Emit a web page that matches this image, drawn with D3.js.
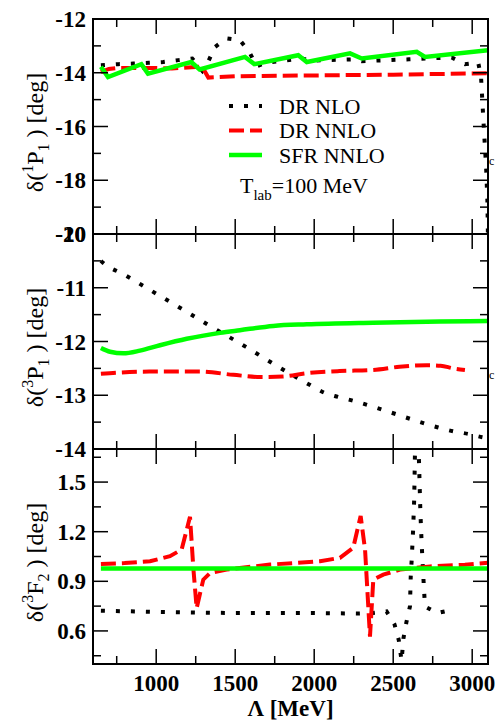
<!DOCTYPE html>
<html>
<head>
<meta charset="utf-8">
<script src="https://cdn.jsdelivr.net/npm/d3@7"></script>
<style>
  body { margin: 0; background: #fff; }
</style>
</head>
<body>
<svg id="chart" width="495" height="720" font-family="'Liberation Serif', serif"></svg>
<script>
// x axis
const xTicks = [1000, 1500, 2000, 2500, 3000];
const xMinorTicks = [750, 1250, 1750, 2250, 2750];

// series names
const seriesNames = ['DR NLO', 'DR NNLO', 'SFR NNLO'];

// 1P1 panel [Lambda, delta]
const p1DrNlo = [[650, -13.72], [760, -13.68], [855, -13.66], [954, -13.63], [1045, -13.6], [1140, -13.53], [1228, -13.47], [1292, -13.93], [1328, -13.6], [1372, -13.04], [1446, -12.72], [1530, -12.79], [1589, -13.22], [1636, -13.76], [1700, -13.62], [1925, -13.47], [1975, -13.55], [2250, -13.5], [2300, -13.57], [2600, -13.5], [2870, -13.43], [2954, -13.68], [3038, -13.62], [3056, -14.16], [3066, -15.25], [3077, -16.4], [3088, -17.5], [3096, -18.74], [3100, -20.2]];
const p1DrNnlo = [[650, -13.98], [700, -13.86], [760, -13.82], [1000, -13.82], [1100, -13.84], [1290, -13.77], [1330, -14.18], [1500, -14.13], [2000, -14.1], [2500, -14.07], [3100, -14.02]];
const p1SfrNnlo = [[650, -13.78], [695, -14.16], [906, -13.68], [948, -14.03], [1222, -13.6], [1275, -13.88], [1562, -13.41], [1621, -13.68], [1899, -13.35], [1953, -13.6], [2227, -13.28], [2301, -13.47], [2649, -13.22], [2701, -13.41], [3100, -13.16]];
const p1Ticks = [-20, -18, -16, -14, -12];
const p1MinorTicks = [-19, -17, -15, -13];

// 3P1 panel
const p3DrNlo = [[650, -10.5], [665, -10.54], [800, -10.76], [1000, -11.11], [1200, -11.46], [1323, -11.68], [1568, -12.1], [1750, -12.43], [1896, -12.68], [1980, -12.82], [2062, -12.95], [2150, -13.03], [2244, -13.1], [2380, -13.22], [2516, -13.35], [2650, -13.48], [2785, -13.6], [2880, -13.67], [2975, -13.72], [3064, -13.78], [3100, -13.8]];
const p3DrNnlo = [[650, -12.6], [750, -12.58], [961, -12.56], [1277, -12.56], [1488, -12.62], [1657, -12.66], [1800, -12.65], [1953, -12.59], [2160, -12.55], [2374, -12.53], [2540, -12.47], [2712, -12.44], [2800, -12.45], [2880, -12.5], [2954, -12.53]];
const p3SfrNnlo = [[650, -12.12], [708, -12.19], [792, -12.22], [897, -12.17], [1024, -12.07], [1193, -11.95], [1404, -11.84], [1530, -11.79], [1741, -11.71], [1953, -11.68], [2374, -11.65], [2796, -11.63], [3100, -11.62]];
const p3Ticks = [-14, -13, -12, -11, -10];
const p3MinorTicks = [-13.5, -12.5, -11.5, -10.5];

// 3F2 panel
const f2DrNlo = [[650, 0.722], [1000, 0.715], [1500, 0.708], [2000, 0.708], [2270, 0.705], [2370, 0.708], [2458, 0.718], [2508, 0.64], [2535, 0.546], [2553, 0.42], [2565, 0.556], [2583, 0.65], [2606, 0.748], [2611, 0.93], [2617, 1.03], [2626, 1.21], [2633, 1.4], [2638, 1.69], [2651, 2.0], [2664, 1.6], [2672, 1.32], [2680, 1.13], [2690, 0.94], [2701, 0.748], [2779, 0.708], [2855, 0.724]];
const f2DrNnlo = [[650, 1.005], [800, 1.01], [961, 1.021], [1087, 1.052], [1161, 1.092], [1214, 1.29], [1235, 0.98], [1256, 0.738], [1298, 0.91], [1341, 0.95], [1446, 0.971], [1720, 1.001], [2037, 1.021], [2163, 1.042], [2247, 1.103], [2294, 1.295], [2322, 1.09], [2353, 0.566], [2374, 0.91], [2437, 0.94], [2543, 0.971], [2733, 0.99], [2954, 1.0], [3100, 1.012]];
const f2SfrNnlo = [[650, 0.978], [1500, 0.977], [2500, 0.977], [3100, 0.977]];
const f2Ticks = [0.6, 0.9, 1.2, 1.5];
const f2MinorTicks = [0.45, 0.75, 1.05, 1.35, 1.65];

const panels = [
  { label: ['1', '1'], domain: [-20, -12], ticks: p1Ticks, minor: p1MinorTicks, fmt: d3.format('d'), series: [p1DrNlo, p1DrNnlo, p1SfrNnlo], curve: d3.curveLinear },
  { label: ['3', '1'], domain: [-14, -10], ticks: p3Ticks, minor: p3MinorTicks, fmt: d3.format('d'), series: [p3DrNlo, p3DrNnlo, p3SfrNnlo], curve: d3.curveMonotoneX },
  { label: ['3', '2'], domain: [0.4, 1.7], ticks: f2Ticks, minor: f2MinorTicks, fmt: d3.format('.1f'), series: [f2DrNlo, f2DrNnlo, f2SfrNnlo], curve: d3.curveLinear, letter: 'F' }
];

// line styles for DR NLO, DR NNLO, SFR NNLO
const styles = [
  { color: '#000', width: 4, dash: '4,11' },
  { color: '#ff0000', width: 4, dash: '15,6' },
  { color: '#00ff00', width: 4.5, dash: null }
];

const svg = d3.select('#chart');
const plotLeft = 93, plotRight = 488, plotTop = 19, panelH = 215;
const majorLen = 15, minorLen = 8;

const x = d3.scaleLinear().domain([600, 3100]).range([plotLeft, plotRight]);

panels.forEach((p, i) => {
  const y0 = plotTop + i * panelH;
  const y = d3.scaleLinear().domain(p.domain).range([y0 + panelH, y0]);
  const g = svg.append('g');

  g.append('clipPath').attr('id', 'clip' + i)
    .append('rect').attr('x', plotLeft).attr('y', y0).attr('width', plotRight - plotLeft).attr('height', panelH);

  // curves
  const line = d3.line().x(d => x(d[0])).y(d => y(d[1])).curve(p.curve);
  p.series.forEach((s, k) => {
    g.append('path')
      .attr('clip-path', `url(#clip${i})`)
      .attr('d', line(s))
      .attr('fill', 'none')
      .attr('stroke', styles[k].color)
      .attr('stroke-width', styles[k].width)
      .attr('stroke-dasharray', styles[k].dash);
  });

  // ticks, inward on all four sides
  const ticks = g.append('g').attr('stroke', '#000').attr('stroke-width', 1.5);
  const xt = xTicks.map(v => [v, majorLen]).concat(xMinorTicks.map(v => [v, minorLen]));
  xt.forEach(([v, len]) => {
    ticks.append('line').attr('x1', x(v)).attr('x2', x(v)).attr('y1', y0 + panelH).attr('y2', y0 + panelH - len);
    ticks.append('line').attr('x1', x(v)).attr('x2', x(v)).attr('y1', y0).attr('y2', y0 + len);
  });
  const yt = p.ticks.map(v => [v, majorLen]).concat(p.minor.map(v => [v, minorLen]));
  yt.forEach(([v, len]) => {
    ticks.append('line').attr('x1', plotLeft).attr('x2', plotLeft + len).attr('y1', y(v)).attr('y2', y(v));
    ticks.append('line').attr('x1', plotRight).attr('x2', plotRight - len).attr('y1', y(v)).attr('y2', y(v));
  });

  // frame
  g.append('rect').attr('x', plotLeft).attr('y', y0).attr('width', plotRight - plotLeft).attr('height', panelH)
    .attr('fill', 'none').attr('stroke', '#000').attr('stroke-width', 2);

  // y tick labels
  g.selectAll('.ylab').data(p.ticks).enter().append('text')
    .attr('x', plotLeft - 7).attr('y', d => y(d)).attr('dy', '0.35em')
    .attr('text-anchor', 'end').attr('font-size', 23).attr('font-weight', 'bold')
    .text(d => p.fmt(d).replace('−', '-'));

  // y axis title
  const t = g.append('text')
    .attr('transform', `translate(43, ${y0 + panelH / 2 + 6}) rotate(-90)`)
    .attr('text-anchor', 'middle').attr('font-size', 24);
  t.append('tspan').text('δ(');
  t.append('tspan').attr('dy', -10).attr('font-size', 16).text(p.label[0]);
  t.append('tspan').attr('dy', 10).text(p.letter || 'P');
  t.append('tspan').attr('dy', 6).attr('font-size', 16).text(p.label[1]);
  t.append('tspan').attr('dy', -6).text(' ) [deg]');
});

// x tick labels and title
const plotBottom = plotTop + 3 * panelH;
svg.selectAll('.xlab').data(xTicks).enter().append('text')
  .attr('x', d => x(d)).attr('y', plotBottom + 27)
  .attr('text-anchor', 'middle').attr('font-size', 23).attr('font-weight', 'bold')
  .text(d => d);
svg.append('text').attr('x', (plotLeft + plotRight) / 2).attr('y', 716)
  .attr('text-anchor', 'middle').attr('font-size', 23).attr('font-weight', 'bold')
  .text('Λ [MeV]');

// legend
const legend = svg.append('g');
seriesNames.forEach((name, k) => {
  const ly = 106 + k * 24.5;
  legend.append('line').attr('x1', 229).attr('x2', 262).attr('y1', ly).attr('y2', ly)
    .attr('stroke', styles[k].color).attr('stroke-width', styles[k].width)
    .attr('stroke-dasharray', styles[k].dash);
  legend.append('text').attr('x', 279).attr('y', ly + 7.5).attr('font-size', 22).text(name);
});
const tl = legend.append('text').attr('x', 240).attr('y', 193).attr('font-size', 22);
tl.append('tspan').text('T');
tl.append('tspan').attr('dy', 7).attr('font-size', 15).text('lab');
tl.append('tspan').attr('dy', -7).text('=100 MeV');

// clipped label fragments on the right edge
svg.append('text').attr('x', 489).attr('y', 165).attr('font-size', 12).text('c');
svg.append('text').attr('x', 489).attr('y', 379).attr('font-size', 12).text('c');
</script>
</body>
</html>
